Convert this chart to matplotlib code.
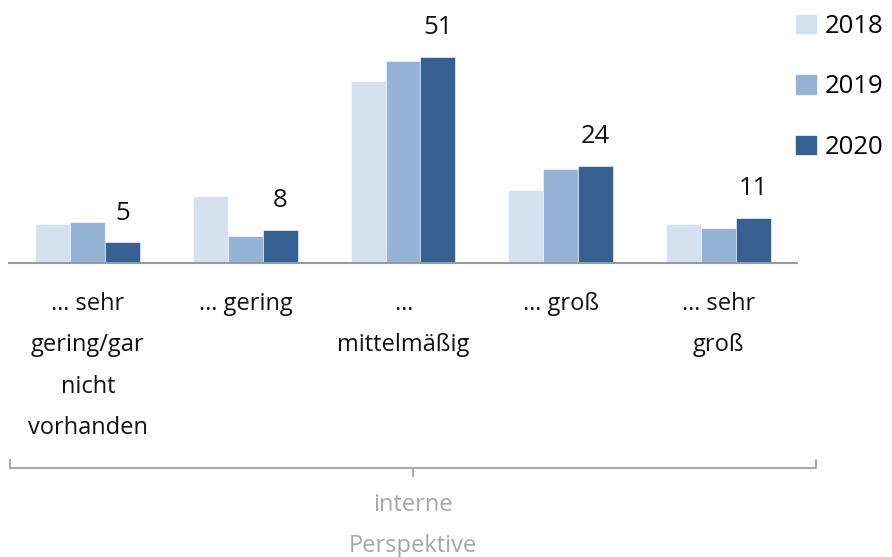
import matplotlib
matplotlib.use("Agg")
import matplotlib.pyplot as plt
import matplotlib.transforms as mtransforms
from matplotlib.lines import Line2D
import numpy as np

plt.rcParams['font.family'] = ['Open Sans', 'DejaVu Sans']

categories = ["… sehr\ngering/gar\nnicht\nvorhanden", "… gering", "…\nmittelmäßig", "… groß", "… sehr\ngroß"]
series_names = ["2018", "2019", "2020"]
values_2018 = [9.5, 16.5, 45, 18, 9.6]
values_2019 = [10, 6.5, 50, 23.2, 8.6]
values_2020 = [5, 8, 51, 24, 11]
labels_2020 = ["5", "8", "51", "24", "11"]
group_label = "interne\nPerspektive"

colors = ["#d6e1ef", "#95b3d7", "#366092"]

W, H = 892, 557
fig = plt.figure(figsize=(W / 100, H / 100), dpi=100)
ax = fig.add_axes([9 / W, (H - 262.7) / H, 788 / W, 262.7 / H])

x = np.arange(len(categories))
bw = 0.222
all_vals = [values_2018, values_2019, values_2020]
for k, (vals, name, c) in enumerate(zip(all_vals, series_names, colors)):
    ax.bar(x + (k - 1) * bw, vals, width=bw, color=c, label=name,
           edgecolor="white", linewidth=0.4)

for i, (v, lab) in enumerate(zip(values_2020, labels_2020)):
    ax.annotate(lab, (x[i] + bw, v), xytext=(0, 16.5), textcoords="offset points",
                ha="center", va="baseline", fontsize=18.5, color="#111111")

ax.set_xlim(-0.5, 4.5)
ax.set_ylim(0, 65)
for s in ["top", "right", "left"]:
    ax.spines[s].set_visible(False)
ax.spines["bottom"].set_color("#9a9a9a")
ax.spines["bottom"].set_linewidth(1.5)
ax.set_yticks([])
ax.set_xticks([])

# category labels
trans = mtransforms.blended_transform_factory(ax.transData, fig.transFigure)
for i, lab in enumerate(categories):
    ax.text(x[i], (H - 292) / H, lab, transform=trans, ha="center", va="top",
            fontsize=17, linespacing=1.97, color="#111111")

# bracket
bc = "#aaaaaa"
yl = (H - 468) / H
yt = (H - 460) / H
yb = (H - 476) / H
xl, xr = 9.5 / W, 816 / W
xm = (xl + xr) / 2
for xs, ys in [([xl, xr], [yl, yl]), ([xl, xl], [yl, yt]), ([xr, xr], [yl, yt]), ([xm, xm], [yl, yb])]:
    fig.add_artist(Line2D(xs, ys, transform=fig.transFigure, color=bc, linewidth=1.5))
fig.text(xm, (H - 493) / H, group_label, ha="center", va="top", fontsize=17,
         linespacing=1.92, color="#a6a6a6")

# legend
handles = [plt.Rectangle((0, 0), 1, 1, color=c) for c in colors]
leg = fig.legend(handles, series_names, loc="upper left", bbox_to_anchor=(778.5 / W, 1.0 + 4 / H),
                 frameon=False, fontsize=18.5, handlelength=0.75, handleheight=0.75,
                 handletextpad=0.35, labelspacing=1.38, borderaxespad=0.3)

fig.savefig("out.png", dpi=100)
